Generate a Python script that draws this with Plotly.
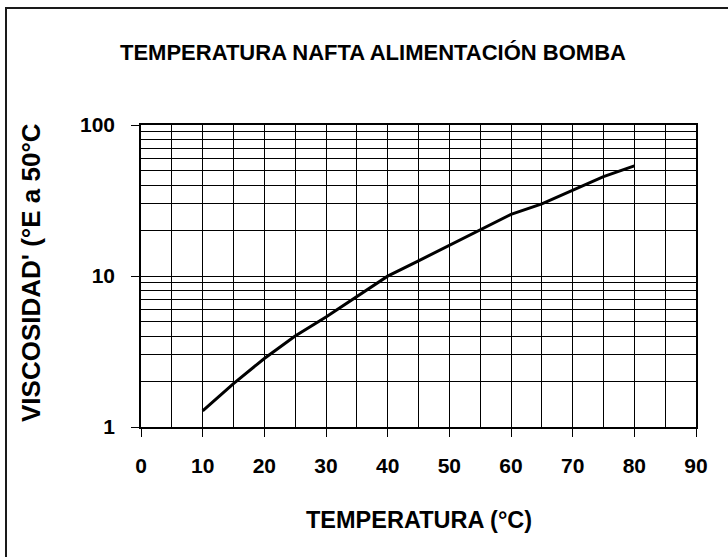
import plotly.graph_objects as go

# Viscosity of the pump feed naphtha vs temperature
temperatura = [10, 15, 20, 25, 30, 35, 40, 45, 50, 55, 60, 65, 70, 75, 80]
viscosidad = [1.28, 1.94, 2.84, 4.0, 5.36, 7.28, 9.98, 12.6, 16.0, 20.4, 25.6, 30.0, 37.1, 45.5, 53.6]

x_ticks = [0, 10, 20, 30, 40, 50, 60, 70, 80, 90]
y_ticks = [1, 10, 100]
y_minor = [2, 3, 4, 5, 6, 7, 8, 9, 20, 30, 40, 50, 60, 70, 80, 90]

FONT = "Liberation Sans, Arial, sans-serif"

fig = go.Figure()
fig.add_trace(go.Scatter(
    x=temperatura, y=viscosidad, mode="lines",
    line=dict(color="black", width=3),
    showlegend=False, hoverinfo="x+y",
))

W, H = 728, 557
L, R, T, B = 141, 32, 125, 130
pw, ph = W - L - R, H - T - B


def px(xp):
    return (xp - L) / pw


def py(yp):
    return (H - B - yp) / ph


fig.update_layout(
    width=W, height=H,
    margin=dict(l=L, r=R, t=T, b=B),
    paper_bgcolor="white", plot_bgcolor="white",
    font=dict(family=FONT, color="black"),
    xaxis=dict(
        range=[0, 90], tickvals=x_ticks,
        ticks="outside", ticklen=8, tickwidth=1, tickcolor="black",
        showline=True, linecolor="black", linewidth=1.5, mirror=True,
        showgrid=True, gridcolor="black", gridwidth=1,
        minor=dict(dtick=5, tick0=0, showgrid=True, gridcolor="black",
                   gridwidth=1, ticks=""),
        tickfont=dict(size=21, weight="bold", family=FONT),
        ticklabelstandoff=11, zeroline=False,
    ),
    yaxis=dict(
        type="log", range=[0, 2], tickvals=y_ticks, ticktext=["1", "10", "100"],
        ticks="outside", ticklen=8, tickwidth=1, tickcolor="black",
        showline=True, linecolor="black", linewidth=1.5, mirror=True,
        showgrid=True, gridcolor="black", gridwidth=1,
        minor=dict(tickvals=y_minor, showgrid=True, gridcolor="black",
                   gridwidth=1, ticks=""),
        tickfont=dict(size=21, weight="bold", family=FONT),
        ticklabelstandoff=12, zeroline=False,
    ),
    annotations=[
        dict(text="TEMPERATURA NAFTA ALIMENTACIÓN BOMBA", xref="paper", yref="paper",
             x=px(373), y=py(53), showarrow=False, xanchor="center", yanchor="middle",
             font=dict(size=22, weight="bold", family=FONT)),
        dict(text="TEMPERATURA (°C)", xref="paper", yref="paper",
             x=px(418.5), y=py(520), showarrow=False, xanchor="center", yanchor="middle",
             font=dict(size=23.5, weight="bold", family=FONT)),
        dict(text="VISCOSIDAD' (°E a 50°C", xref="paper", yref="paper",
             x=px(31), y=py(273), showarrow=False, xanchor="center", yanchor="middle",
             textangle=-90, font=dict(size=26, weight="bold", family=FONT)),
    ],
    shapes=[
        dict(type="rect", xref="paper", yref="paper",
             x0=px(6), y0=py(H + 40), x1=px(W + 40), y1=py(8),
             line=dict(color="#1a1a1a", width=2), layer="below"),
    ],
)

fig.write_html("out.html")
